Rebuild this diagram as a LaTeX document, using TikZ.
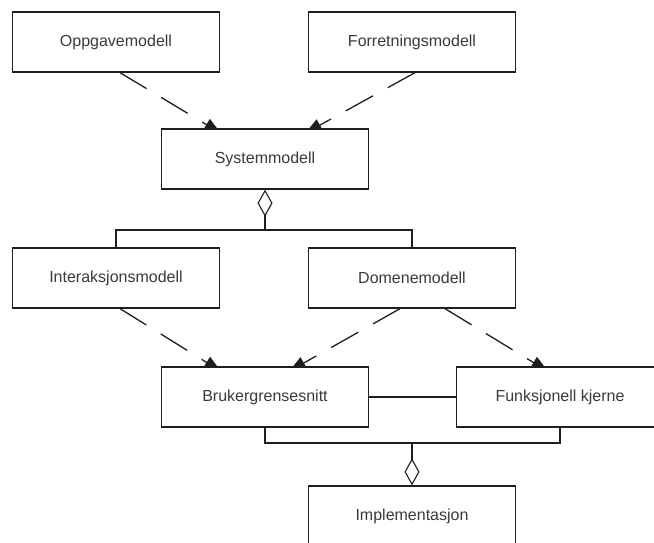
\documentclass[tikz,border=0pt]{standalone}
\usepackage{fontspec}
\setmainfont{Liberation Sans}
\usetikzlibrary{arrows.meta,backgrounds}
\definecolor{edge}{HTML}{1E1E1E}
\definecolor{label}{HTML}{3A3A3A}
\begin{document}
\begin{tikzpicture}[x=1pt,y=-1pt,
  model/.style={draw=edge, fill=white, line width=1.3pt, minimum width=207pt, minimum height=60pt,
    inner sep=0pt, font=\fontsize{16}{19}\selectfont, text=label},
  dep/.style={draw=edge, line width=1.3pt, dash pattern=on 31pt off 17pt,
    -{Triangle[length=17pt,width=13pt,fill=edge]}},
  link/.style={draw=edge, line width=1.3pt},
  agg/.style={draw=edge, line width=1.3pt, {Diamond[open,length=27pt,width=15pt,line width=1.1pt]}-}]
  \useasboundingbox (0,0) rectangle (654,543);

  % model boxes (filled, so arrow tips end partly hidden under them)
  \node[model] (opp) at (116,42)  {Oppgavemodell};
  \node[model] (for) at (412,42)  {Forretningsmodell};
  \node[model] (sys) at (265,159) {Systemmodell};
  \node[model] (int) at (116,278) {Interaksjonsmodell};
  \node[model] (dom) at (412,278) {Domenemodell};
  \node[model] (bru) at (265,397) {Brukergrensesnitt};
  \node[model] (fun) at (560,397) {Funksjonell kjerne};
  \node[model] (imp) at (412,516) {Implementasjon};

  % dependencies, drawn behind the boxes
  \begin{pgfonlayer}{background}
    \draw[dep] ([xshift=4pt]opp.south) -- ([xshift=-44pt,yshift=-5pt]sys.north);
    \draw[dep] ([xshift=3pt]for.south) -- ([xshift=40pt,yshift=-5pt]sys.north);
    \draw[dep] ([xshift=4pt]int.south) -- ([xshift=-44pt,yshift=-5pt]bru.north);
    \draw[dep] ([xshift=-12pt]dom.south) -- ([xshift=24pt,yshift=-5pt]bru.north);
    \draw[dep] ([xshift=33pt]dom.south) -- ([xshift=-12pt,yshift=-5pt]fun.north);
  \end{pgfonlayer}

  % aggregation of the system model
  \coordinate (j1) at (265,230);
  \draw[agg] (sys.south) -- (j1);
  \draw[link] (int.north) |- (j1) -| (dom.north);

  % user interface and functional core
  \draw[link] (bru.east) -- (fun.west);

  % aggregation into the implementation
  \coordinate (j2) at (412,443);
  \draw[link] (bru.south) |- (j2) -| (fun.south);
  \draw[agg] (imp.north) -- (j2);
\end{tikzpicture}
\end{document}
